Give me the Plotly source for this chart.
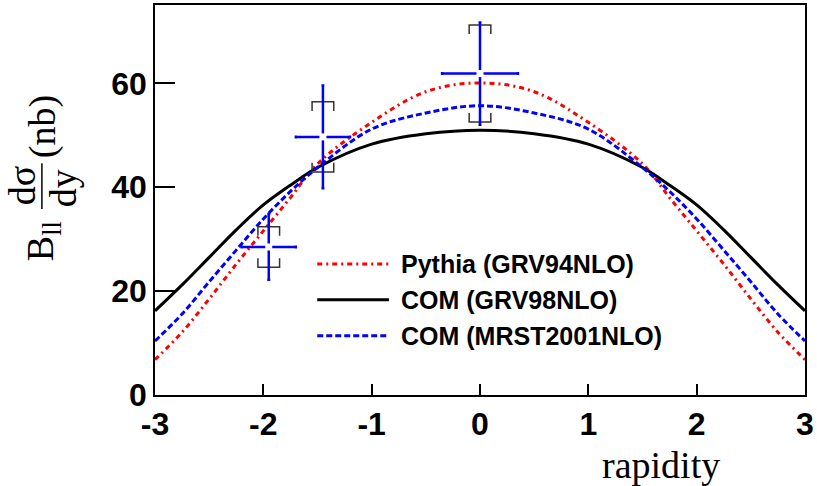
import plotly.graph_objects as go

# rapidity grid for the model curves
curve_x = [-3, -2.75, -2.5, -2.25, -2, -1.75, -1.5, -1, -0.5, 0,
           0.5, 1, 1.5, 1.75, 2, 2.25, 2.5, 2.75, 3]
pythia_grv94 = [6.8, 12.1, 18.5, 25.2, 31.6, 38.0, 44.5, 52.5, 58.4, 60.1,
                58.4, 52.5, 44.5, 38.0, 31.6, 25.2, 18.5, 12.1, 6.8]
com_grv98 = [16.2, 21.2, 26.5, 31.8, 36.6, 40.4, 43.8, 48.3, 50.3, 51.0,
             50.3, 48.3, 43.8, 40.4, 36.6, 31.8, 26.5, 21.2, 16.2]
com_mrst2001 = [10.4, 15.6, 21.8, 27.9, 33.9, 39.2, 43.8, 51.2, 54.3, 55.7,
                54.3, 51.2, 43.8, 39.2, 33.9, 27.9, 21.8, 15.6, 10.4]

# measured points
pt_x = [-1.95, -1.45, 0.0]
pt_y = [28.5, 49.7, 61.9]
pt_ex = [0.25, 0.25, 0.35]
pt_ey = [6.3, 9.9, 9.85]
pt_sys = [3.9, 6.75, 9.35]

legend_names = ["Pythia (GRV94NLO)", "COM (GRV98NLO)", "COM (MRST2001NLO)"]

RED = "#ff0000"
BLUE = "#0000ff"
BRACKET_HW = 0.1
BRACKET_LEG = 1.75

fig = go.Figure()

curve_styles = [
    (pythia_grv94, RED, "5px,4px,2px,4px"),
    (com_grv98, "#000000", "solid"),
    (com_mrst2001, BLUE, "6px,3px"),
]
for ys, color, dash in curve_styles:
    fig.add_trace(go.Scatter(
        x=curve_x, y=ys, mode="lines", line_shape="spline",
        line=dict(color=color, width=3, dash=dash), showlegend=False
    ))

# systematic brackets
bx, by = [], []
for x, y, s in zip(pt_x, pt_y, pt_sys):
    top, bot = y + s, y - s
    bx += [x - BRACKET_HW, x - BRACKET_HW, x + BRACKET_HW, x + BRACKET_HW, None]
    by += [top - BRACKET_LEG, top, top, top - BRACKET_LEG, None]
    bx += [x - BRACKET_HW, x - BRACKET_HW, x + BRACKET_HW, x + BRACKET_HW, None]
    by += [bot + BRACKET_LEG, bot, bot, bot + BRACKET_LEG, None]
fig.add_trace(go.Scatter(x=bx, y=by, mode="lines",
                         line=dict(color="#333333", width=1.5), showlegend=False))

fig.add_trace(go.Scatter(
    x=pt_x, y=pt_y, mode="markers",
    marker=dict(symbol="square", size=7, color="white"),
    error_x=dict(type="data", array=pt_ex, color=BLUE, thickness=2.5, width=1.5),
    error_y=dict(type="data", array=pt_ey, color=BLUE, thickness=2.5, width=1.5),
    showlegend=False
))

# hand-drawn legend (long ROOT-style sample lines)
leg_y = [0.336, 0.244, 0.152]
for (ys, color, dash), name, ly in zip(curve_styles, legend_names, leg_y):
    fig.add_shape(type="line", xref="paper", yref="paper",
                  x0=0.2496, x1=0.3599, y0=ly, y1=ly,
                  line=dict(color=color, width=3, dash=dash))
    fig.add_annotation(x=0.375, y=ly, xref="paper", yref="paper",
                       text=name, showarrow=False, xanchor="left", yanchor="middle",
                       font=dict(family="Liberation Sans", size=25, weight="bold", color="black"))

serif = dict(family="Liberation Serif", size=38, color="black")
for txt, ax, ay in [("B<sub>ll</sub>", -0.172, 0.395), ("dσ", -0.204, 0.536),
                    ("dy", -0.141, 0.531), ("(nb)", -0.174, 0.689)]:
    fig.add_annotation(x=ax, y=ay, xref="paper", yref="paper", text=txt,
                       textangle=-90, showarrow=False, xanchor="center",
                       yanchor="middle", font=serif)
fig.add_shape(type="line", xref="paper", yref="paper", x0=-0.174, x1=-0.174,
              y0=0.477, y1=0.594, line=dict(color="black", width=1.5))
fig.add_annotation(x=0.872, y=-0.179, xref="paper", yref="paper", text="rapidity",
                   showarrow=False, xanchor="right", yanchor="middle", font=serif)

tick_font = dict(family="Liberation Sans", size=32, weight="bold", color="black")
fig.update_xaxes(range=[-3, 3], tickvals=[-3, -2, -1, 0, 1, 2, 3],
                 ticktext=["-3", "-2", "-1", "0", "1", "2", "3"],
                 ticks="inside", ticklen=11, tickwidth=1.5, tickcolor="black",
                 showline=True, linecolor="black", linewidth=1.5, mirror=True,
                 showgrid=False, zeroline=False, tickfont=tick_font)
fig.update_yaxes(range=[0, 75.1], tickvals=[0, 20, 40, 60],
                 ticks="inside", ticklen=20, tickwidth=1.5, tickcolor="black",
                 showline=True, linecolor="black", linewidth=1.5, mirror=True,
                 showgrid=False, zeroline=False, tickfont=tick_font)

fig.update_layout(
    width=817, height=486,
    margin=dict(l=155, r=9, t=3, b=91),
    plot_bgcolor="white", paper_bgcolor="white",
    showlegend=False
)

fig.write_html("out.html", config={"displayModeBar": False},
               post_script="document.body.style.margin='0';")
